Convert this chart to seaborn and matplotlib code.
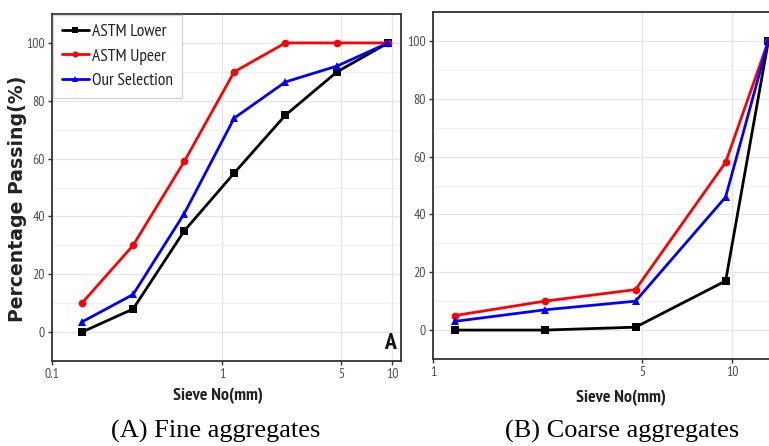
import numpy as np
import pandas as pd
import matplotlib
matplotlib.use("Agg")
import matplotlib.pyplot as plt
from matplotlib.ticker import FixedLocator, FixedFormatter, MultipleLocator, NullLocator
import seaborn as sns

# Fine aggregate grading (sieve size in mm, % passing)
fine_sieve = [0.15, 0.3, 0.6, 1.18, 2.36, 4.75, 9.5]
fine_lower = [0, 8, 35, 55, 75, 90, 100]
fine_upper = [10, 30, 59, 90, 100, 100, 100]
fine_selection = [3.5, 13, 41, 74, 86.5, 92, 100]

# Coarse aggregate grading
coarse_sieve = [1.18, 2.36, 4.75, 9.5, 13.2]
coarse_lower = [0, 0, 1, 17, 100]
coarse_upper = [5, 10, 14, 58, 100]
coarse_selection = [3, 7, 10, 46, 100]

series_names = ["ASTM Lower", "ASTM Upeer", "Our Selection"]
fine_xticks = [0.1, 1, 5, 10]
coarse_xticks = [1, 5, 10]
y_ticks = [0, 20, 40, 60, 80, 100]

palette = {"ASTM Lower": "#000000", "ASTM Upeer": "#ff0000", "Our Selection": "#0000ff"}
markers = {"ASTM Lower": "s", "ASTM Upeer": "o", "Our Selection": "^"}

NARROW = ["Liberation Sans Narrow", "PT Sans Narrow", "Roboto Condensed",
          "Archivo Narrow", "DejaVu Sans"]


def long_table(sieve, lower, upper, sel):
    frames = []
    for name, vals in zip(series_names, [lower, upper, sel]):
        frames.append(pd.DataFrame({"sieve": sieve, "passing": vals, "series": name}))
    return pd.concat(frames, ignore_index=True)


fine_df = long_table(fine_sieve, fine_lower, fine_upper, fine_selection)
coarse_df = long_table(coarse_sieve, coarse_lower, coarse_upper, coarse_selection)

sns.set_theme(style="white")
plt.rcParams["font.family"] = NARROW

fig = plt.figure(figsize=(7.69, 4.46), dpi=100)
ax1 = fig.add_axes([52 / 769, 85 / 446, 349 / 769, 347 / 446])
ax2 = fig.add_axes([433 / 769, 87 / 446, 352 / 769, 347 / 446])


def draw(ax, df, xlim, xticks, legend):
    ax.set_xscale("log")
    sns.lineplot(data=df, x="sieve", y="passing", hue="series", style="series",
                 hue_order=series_names, style_order=series_names,
                 palette=palette, markers=markers, dashes=False,
                 linewidth=2.0, markersize=5.5, markeredgewidth=0,
                 ax=ax, legend=legend, sort=False)
    ax.set_xlim(*xlim)
    ax.set_ylim(-10, 110)
    ax.xaxis.set_major_locator(FixedLocator(xticks))
    ax.xaxis.set_major_formatter(FixedFormatter([f"{t:g}" for t in xticks]))
    ax.xaxis.set_minor_locator(NullLocator())
    ax.yaxis.set_major_locator(FixedLocator(y_ticks))
    ax.yaxis.set_minor_locator(MultipleLocator(10))
    ax.grid(True, which="major", color="#e6e6e6", linewidth=0.9)
    ax.grid(True, which="minor", axis="y", color="#efefef", linewidth=0.8)
    ax.set_axisbelow(True)
    for s in ax.spines.values():
        s.set_color("#333333")
        s.set_linewidth(1.3)
    ax.tick_params(axis="both", which="major", direction="out", length=3, width=1,
                   color="#333333", labelsize=10, labelcolor="#4d4d4d", pad=2,
                   bottom=True, left=True)
    ax.tick_params(which="minor", length=0)
    ax.set_xlabel("")
    ax.set_ylabel("")


draw(ax1, fine_df, (0.1, 11.3), fine_xticks, legend=True)
draw(ax2, coarse_df, (1, 15), coarse_xticks, legend=False)

leg = ax1.legend(loc="upper left", bbox_to_anchor=(0.0, 1.0), frameon=True,
                 fancybox=False, fontsize=12.5, handlelength=1.6,
                 handletextpad=0.15, borderpad=0.5, labelspacing=0.5,
                 borderaxespad=0.05, markerscale=0.8)
leg.get_frame().set_edgecolor("#cccccc")
leg.get_frame().set_linewidth(1.0)
for t in leg.get_texts():
    t.set_color("#222222")

# panel tags in the lower-right corners
ax1.text(0.985, 0.02, "A", transform=ax1.transAxes, ha="right", va="bottom",
         fontsize=17, fontweight="bold", color="#111111")
ax2.text(0.985, 0.02, "B", transform=ax2.transAxes, ha="right", va="bottom",
         fontsize=17, fontweight="bold", color="#111111")

fig.text(18 / 769, 1 - 199 / 446, "Percentage Passing(%)", rotation=90, ha="center",
         va="center", fontsize=13.6, fontweight="bold", color="#222222",
         family="DejaVu Sans")
fig.text(218 / 769, 1 - 396 / 446, "Sieve No(mm)", ha="center", va="center",
         fontsize=13, fontweight="bold", color="#222222")
fig.text(621 / 769, 1 - 398 / 446, "Sieve No(mm)", ha="center", va="center",
         fontsize=13, fontweight="bold", color="#222222")

fig.text(216 / 769, 1 - 431 / 446, "(A) Fine aggregates", ha="center", va="center",
         fontsize=19, family="Liberation Serif", color="#000000")
fig.text(622 / 769, 1 - 431 / 446, "(B) Coarse aggregates", ha="center", va="center",
         fontsize=19, family="Liberation Serif", color="#000000")

fig.savefig("out.png", dpi=100, facecolor="white")
